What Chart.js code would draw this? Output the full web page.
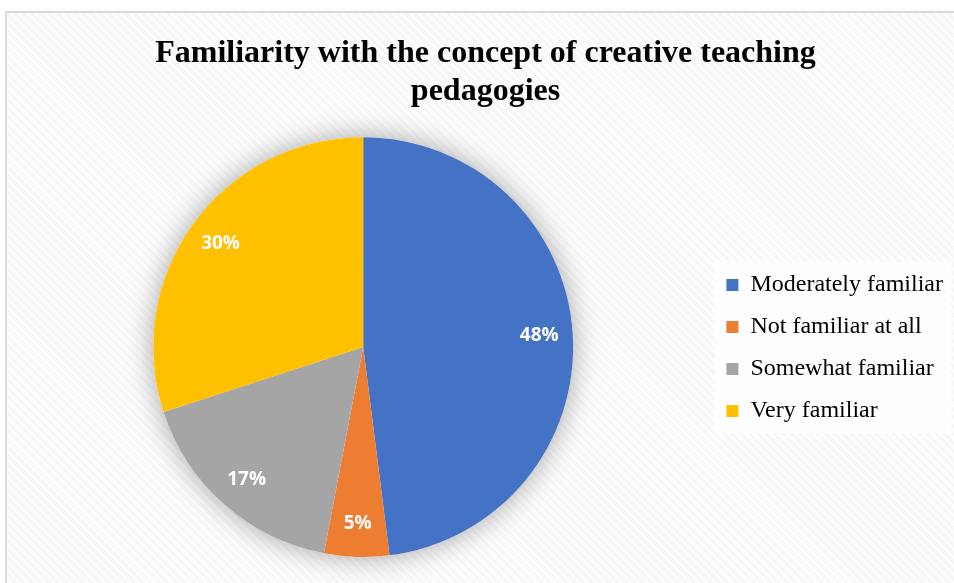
<!DOCTYPE html>
<html>
<head>
<meta charset="utf-8">
<script src="https://cdn.jsdelivr.net/npm/chart.js@4"></script>
<style>
  html, body { margin: 0; padding: 0; background: #fff; overflow: hidden; }
  body { width: 954px; height: 583px; position: relative; }
  #frame {
    position: absolute; left: 5px; top: 11px; width: 960px; height: 580px;
    border: 2px solid #dcdcdc;
    background: repeating-linear-gradient(45deg, #f7f7f7 0px, #f7f7f7 3px, #fdfdfd 3px, #fdfdfd 6px);
  }
  #wrap { position: absolute; left: 0; top: 0; width: 953px; height: 583px; }
</style>
</head>
<body>
<div id="frame"></div>
<div id="wrap"><canvas id="chart"></canvas></div>
<script>
const categories = ['Moderately familiar', 'Not familiar at all', 'Somewhat familiar', 'Very familiar'];
const shares = [48, 5, 17, 30];
const colors = ['#4472C4', '#ED7D31', '#A5A5A5', '#FFC000'];

// soft shadow behind the pie + white legend panel
const backdrop = {
    id: 'backdrop',
    beforeDraw(chart) {
        const { ctx } = chart;
        const legend = chart.legend;
        if (legend && legend.legendHitBoxes.length) {
            const boxes = legend.legendHitBoxes;
            const top = boxes[0].top - 11;
            const bottom = boxes[boxes.length - 1].top + boxes[boxes.length - 1].height + 10;
            ctx.save();
            ctx.fillStyle = 'rgba(255,255,255,0.85)';
            ctx.fillRect(boxes[0].left - 11, top, 236, bottom - top);
            ctx.restore();
        }
    },
    beforeDatasetsDraw(chart) {
        const arc = chart.getDatasetMeta(0).data[0];
        if (!arc) return;
        const { ctx } = chart;
        ctx.save();
        ctx.shadowColor = 'rgba(0,0,0,0.35)';
        ctx.shadowBlur = 28;
        ctx.fillStyle = '#fff';
        ctx.beginPath();
        ctx.arc(arc.x, arc.y, arc.outerRadius, 0, Math.PI * 2);
        ctx.fill();
        ctx.restore();
    }
};

const sliceLabels = {
    id: 'sliceLabels',
    afterDatasetsDraw(chart) {
        const { ctx } = chart;
        const meta = chart.getDatasetMeta(0);
        ctx.save();
        ctx.fillStyle = '#fff';
        ctx.font = 'bold 19px "Open Sans", sans-serif';
        ctx.textAlign = 'center';
        ctx.textBaseline = 'middle';
        meta.data.forEach((arc, i) => {
            const mid = (arc.startAngle + arc.endAngle) / 2;
            const r = arc.outerRadius * 0.84;
            ctx.fillText(shares[i] + '%', arc.x + Math.cos(mid) * r, arc.y + Math.sin(mid) * r);
        });
        ctx.restore();
    }
};

new Chart(document.getElementById('chart'), {
    type: 'pie',
    data: {
        labels: categories,
        datasets: [{
            data: shares,
            backgroundColor: colors,
            borderWidth: 0
        }]
    },
    options: {
        responsive: true,
        maintainAspectRatio: false,
        animation: false,
        layout: { padding: { left: 18, right: 0, top: 0, bottom: 26 } },
        plugins: {
            title: {
                display: true,
                text: ['Familiarity with the concept of creative teaching', 'pedagogies'],
                color: '#000',
                font: { family: '"Liberation Serif", "Times New Roman", serif', size: 32, weight: 'bold', lineHeight: 1.19 },
                padding: { top: 35, bottom: 26 }
            },
            legend: {
                position: 'right',
                title: { display: true, text: '', font: { size: 1 }, padding: { top: 0, bottom: 138 } },
                labels: {
                    boxWidth: 12,
                    boxHeight: 12,
                    padding: 18,
                    color: '#000',
                    font: { family: '"Liberation Serif", "Times New Roman", serif', size: 24 }
                }
            },
            tooltip: { enabled: false }
        }
    },
    plugins: [backdrop, sliceLabels]
});
</script>
</body>
</html>
